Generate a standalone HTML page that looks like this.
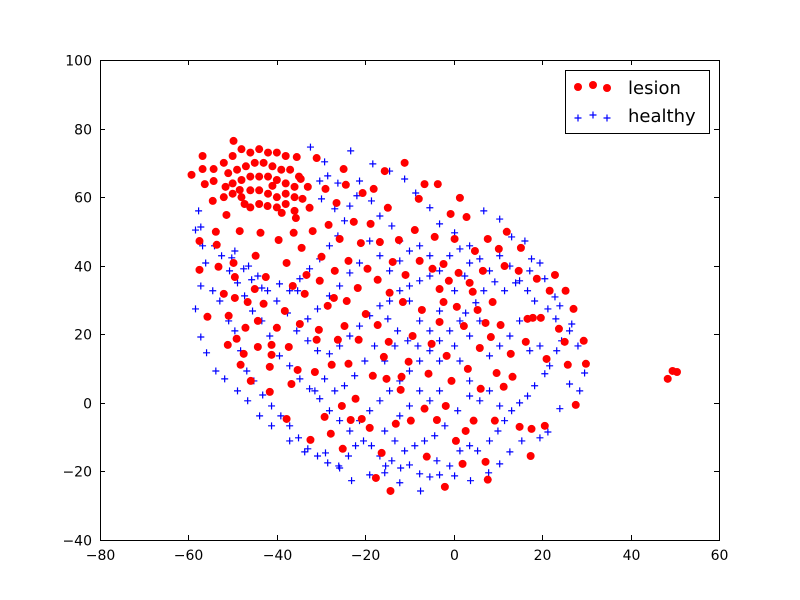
<!DOCTYPE html>
<html><head><meta charset="utf-8"><style>
body{margin:0;background:#fff;}
svg{display:block;font-family:"DejaVu Sans","Liberation Sans",sans-serif;}
</style></head><body>
<svg id="chart" width="800" height="600" viewBox="0 0 800 600" xmlns="http://www.w3.org/2000/svg">
<rect x="0" y="0" width="800" height="600" fill="#fff"/>
<g id="marks"></g>
<g id="axes"></g>
<g>
<rect x="565.5" y="70.5" width="144" height="63" fill="#fff" stroke="#000" stroke-width="1"/>
<g>
<circle cx="578" cy="87" r="4" fill="#f00"/><circle cx="593" cy="85" r="4" fill="#f00"/><circle cx="607" cy="88" r="4" fill="#f00"/>
<text x="628" y="94" font-size="18">lesion</text></g>
<g stroke="#00f" stroke-width="1.2">
<path d="M574.5 118h7M578 114.5v7M589.5 115h7M593 111.5v7M603.5 118h7M607 114.5v7"/>
<text x="628" y="122" font-size="18" stroke="none" fill="#000">healthy</text></g>
</g>
</svg>
<script>
const xTicks=[-80,-60,-40,-20,0,20,40,60];
const yTicks=[-40,-20,0,20,40,60,80,100];
const lesionX=[-59.3,-56.8,-56.8,-56.3,-57.5,-57.5,-55.7,-54.5,-54.3,-54.3,-53.8,-53.6,-53.2,-52.0,-51.6,-51.4,-51.1,-50.9,-49.8,-49.8,-49.5,-49.5,-49.1,-48.4,-48.4,-48.2,-47.5,-47.3,-47.1,-46.6,-45.9,-45.0,-44.8,-44.3,-44.3,-43.7,-43.0,-42.5,-42.1,-41.6,-41.6,-41.0,-41.2,-41.2,-40.0,-39.6,-38.9,-38.2,-37.8,-37.8,-37.3,-36.7,-36.4,-36.2,-35.7,-35.5,-35.3,-34.8,-34.6,-34.4,-34.2,-33.7,-33.3,-32.6,-32.4,-31.9,-31.4,-31.0,-31.0,-30.5,-30.3,-29.9,-29.2,-29.0,-28.5,-28.3,-27.8,-27.6,-27.1,-26.9,-26.5,-26.2,-25.8,-25.3,-25.1,-24.9,-24.7,-24.4,-24.2,-23.8,-23.8,-23.3,-22.6,-22.2,-21.7,-21.5,-21.0,-20.8,-20.6,-19.9,-19.5,-19.0,-18.8,-18.3,-18.1,-17.6,-17.2,-17.2,-16.7,-16.3,-15.8,-15.6,-15.2,-14.9,-14.7,-14.5,-14.3,-13.8,-13.1,-12.4,-12.0,-11.8,-11.5,-11.1,-10.9,-10.2,-9.7,-9.3,-8.8,-7.9,-7.7,-7.2,-6.6,-6.6,-6.1,-5.7,-5.0,-4.8,-4.3,-3.8,-3.6,-3.2,-3.2,-2.3,-2.3,-2.0,-1.8,-1.6,-1.1,-0.7,-0.5,0.2,0.5,0.7,1.1,1.4,2.0,2.3,2.7,2.9,3.2,3.6,4.3,4.5,4.8,5.4,5.9,6.1,6.6,7.2,7.2,7.7,7.7,8.4,8.8,9.3,9.7,10.2,10.6,11.3,11.5,12.0,12.9,13.3,14.7,14.9,15.2,16.3,16.7,17.4,17.6,17.9,18.8,19.7,20.6,21.0,21.7,22.9,23.8,25.1,25.3,25.8,27.1,27.6,29.4,29.9,48.4,49.5,50.5,-52,-50,-48,-46,-44,-42,-40,-38,-51,-49,-47,-45,-43,-41,-39,-37,-35,-50,-48,-46,-44,-42,-40,-38,-36,-52,-50,-48,-46,-44,-42,-40,-38,-36,-46,-44,-40,-38,-36,-33];
const lesionY=[66.5,72.0,68.2,63.8,47.2,38.8,25.1,58.9,68.2,64.7,49.9,46.1,39.7,31.8,63.0,54.8,16.9,25.4,76.4,40.8,30.6,36.7,18.7,50.1,62.1,11.1,14.3,58.0,21.9,29.4,6.4,33.2,42.9,16.3,23.9,49.6,28.9,36.7,57.4,3.2,10.5,63.3,14.0,16.9,21.9,47.5,55.4,26.8,40.8,-4.7,16.3,5.5,34.1,49.6,53.9,71.7,9.6,23.0,65.3,45.2,59.5,31.8,37.3,56.9,-10.8,50.1,9.0,71.4,18.4,21.3,35.6,42.6,-4.1,62.4,28.3,51.9,-9.0,11.1,30.6,38.5,58.3,18.4,47.8,-0.9,-13.4,68.2,22.4,63.6,29.7,11.4,41.4,-5.0,52.8,1.2,33.5,18.4,46.6,-4.7,61.2,25.9,39.1,-7.3,52.2,7.9,62.4,-21.9,22.7,35.9,46.9,-14.6,13.4,67.6,7.0,56.9,17.8,32.1,-25.7,41.1,-6.1,47.5,3.8,7.6,29.4,70.0,37.3,12.0,-5.2,19.5,50.4,59.5,41.4,27.1,63.8,-1.7,-15.7,8.5,17.2,39.1,48.4,-5.0,63.8,33.2,23.6,29.4,40.5,-24.5,-0.9,13.7,35.6,55.1,6.4,47.8,-11.1,28.0,37.9,59.8,-17.8,22.4,-8.2,54.2,9.9,35.0,32.4,-5.2,44.3,27.1,16.0,4.1,38.5,23.3,-17.2,-22.4,47.8,19.2,29.4,-5.2,8.7,44.9,22.7,4.7,39.9,49.9,14.3,7.6,38.5,-7.0,45.2,17.8,24.5,-15.5,-7.6,24.8,36.2,24.8,-6.7,12.8,32.7,37.3,21.6,17.8,32.7,11.1,27.4,-0.6,18.1,11.4,7.0,9.3,9.0,70,72,74,73,74,73,73,72,67,68,69,70,70,69,68,68,66,64,65,66,66,66,65,64,63,60,61,60,62,62,61,60,61,60,57,58,57,58,56,63];
const healthyX=[-32.4,-29.2,-26.2,-23.3,-18.3,-14.5,-11.1,-8.6,-5.4,-3.2,0.2,3.6,6.8,10.4,13.1,16.1,17.6,20.6,22.9,24.0,26.7,28.1,29.6,28.5,26.2,24.0,21.3,19.5,15.4,12.7,10.4,7.9,3.8,0.2,-3.8,-7.5,-12.2,-15.6,-19.0,-23.1,-25.8,-29.0,-33.7,-37.1,-41.2,-43.9,-46.6,-48.9,-51.8,-53.8,-55.9,-57.2,-58.4,-57.2,-56.8,-57.2,-57.7,-58.4,-56.1,-54.5,-52.9,-50.9,-49.5,-48.2,-46.8,-45.2,-43.2,-41.2,-39.1,-37.1,-35.1,-33.0,-30.8,-28.5,-26.0,-23.8,-22.2,-20.4,-18.6,-16.7,-15.4,-14.0,-12.0,-10.0,-7.7,-5.4,-3.2,-0.9,1.4,3.6,5.4,8.1,10.0,11.5,13.1,14.9,16.7,18.3,20.6,21.7,23.3,24.4,26.2,23.1,21.3,18.3,16.7,14.0,11.5,9.3,6.8,5.0,2.7,1.4,-0.9,-3.2,-5.4,-7.7,-10.0,-12.2,-14.5,-16.7,-19.0,-21.3,-23.5,-25.8,-28.1,-30.3,-32.6,-34.8,-37.1,-39.4,-41.6,-43.4,-45.5,-47.3,-48.9,-50.7,-52.5,-54.1,-49.5,-46.4,-44.3,-42.1,-40.0,-37.6,-35.5,-33.0,-30.8,-28.1,-25.8,-23.5,-21.3,-19.0,-16.7,-14.5,-12.2,-10.0,-7.7,-5.4,-3.2,-0.9,1.4,3.6,5.9,8.1,10.4,12.7,14.9,17.2,19.5,-23.5,-24.7,-26.2,-28.1,-30.3,-32.6,-34.8,-37.1,-39.4,-43.4,-45.7,-47.5,-50.2,-21.3,-18.6,-16.7,-14.0,-12.2,-10.0,-7.7,-5.4,-19.0,-21.3,-23.5,-25.8,-28.1,-30.8,-33.0,-35.3,-16.7,-14.5,-12.2,-10.0,-7.7,-5.4,-3.2,0.2,2.5,-14.9,-12.7,-10.4,-8.1,-13.3,-15.6,-17.9,-20.1,-22.4,-24.7,-26.9,-29.2,-31.4,3.6,5.9,8.1,10.4,12.7,14.9,17.2,19.5,1.4,3.6,5.9,8.1,10.4,3.6,0.9,-2.0,-4.3,-6.6,-8.8,-11.1,-13.3,-15.6,-7.7,-5.4,-3.2,-10.0,-12.2,-3.2,0.2,-26.9,-29.9,-30.3,-28.5,-21.9];
const healthyY=[74.6,70.3,64.1,73.5,69.7,67.6,65.3,61.2,56.9,52.2,49.6,45.8,56.0,53.6,48.4,47.2,42.0,36.2,30.9,28.3,23.0,16.6,8.7,3.5,5.5,-1.7,-8.5,-10.2,-11.1,-14.3,-17.8,-20.4,-22.7,-21.3,-16.9,-25.7,-23.3,-20.4,-21.0,-22.7,-19.0,-14.6,-14.3,-11.1,-6.7,-3.8,0.6,3.5,7.0,9.3,14.6,19.2,27.4,34.1,45.8,51.3,56.0,50.4,40.8,32.7,29.7,23.9,21.0,15.2,9.3,6.4,2.3,-0.9,-3.8,-6.7,-10.2,-13.4,-15.5,-17.5,-18.4,-15.5,-12.5,-11.1,-12.5,-15.5,-18.4,-16.9,-19.0,-18.1,-20.7,-21.6,-21.0,-18.4,-14.0,-12.5,-14.0,-11.1,-8.2,-5.2,-2.3,0.0,2.0,5.0,8.5,10.8,15.2,18.1,21.0,24.5,27.4,29.7,32.7,35.0,32.7,35.3,32.7,29.2,26.2,23.9,21.0,18.1,15.2,12.2,9.3,6.4,3.5,0.6,-2.3,-5.2,-8.2,-5.2,-2.3,1.2,4.1,7.0,10.8,13.7,19.5,23.9,26.8,31.2,35.0,38.5,42.9,45.8,44.3,39.9,37.0,32.7,29.7,26.2,21.0,18.1,15.2,14.3,16.6,19.5,22.4,25.4,28.3,29.7,32.7,34.1,35.6,37.0,38.5,42.9,44.9,40.8,42.0,38.5,42.9,39.9,35.6,38.5,40.8,57.4,53.1,48.7,45.8,42.0,39.1,36.2,32.7,34.7,33.5,35.9,39.1,42.3,64.7,58.9,54.5,51.6,47.2,44.3,45.8,42.9,47.2,40.8,37.9,34.1,31.2,27.4,24.5,32.7,42.9,38.5,41.4,29.7,23.9,21.0,26.8,32.7,37.0,24.5,21.0,18.1,16.6,16.6,12.2,16.6,12.2,7.9,5.0,3.5,7.0,3.5,19.5,23.9,13.7,16.6,19.5,23.9,15.2,16.6,12.2,6.4,0.6,3.5,-0.9,2.0,-2.3,-6.7,-9.6,-11.1,-12.5,-14.0,-11.1,-8.2,3.5,0.6,3.5,-0.9,-3.8,12.2,16.6,56.6,59.5,64.7,66.2,60.4];

const L=100,R=719,T=60,B=540;
const xMin=-80,xMax=60,yMin=-40,yMax=100;
function sx(v){return L+(v-xMin)/(xMax-xMin)*(R-L);}
function sy(v){return B-(v-yMin)/(yMax-yMin)*(B-T);}
const NS='http://www.w3.org/2000/svg';
const marks=document.getElementById('marks');
const axes=document.getElementById('axes');
for(let i=0;i<healthyX.length;i++){
  const p=document.createElementNS(NS,'path');
  const x=sx(healthyX[i]),y=sy(healthyY[i]);
  p.setAttribute('d','M'+(x-3.5)+' '+y+'h7M'+x+' '+(y-3.5)+'v7');
  p.setAttribute('stroke','#00f');p.setAttribute('stroke-width','1.2');
  
  
  marks.appendChild(p);
}
for(let i=0;i<lesionX.length;i++){
  const c=document.createElementNS(NS,'circle');
  c.setAttribute('cx',sx(lesionX[i]));c.setAttribute('cy',sy(lesionY[i]));
  c.setAttribute('r','4');c.setAttribute('fill','#f00');
  
  
  marks.appendChild(c);
}
const frame=document.createElementNS(NS,'rect');
frame.setAttribute('x',L+0.5);frame.setAttribute('y',T+0.5);
frame.setAttribute('width',R-L);frame.setAttribute('height',B-T);
frame.setAttribute('fill','none');frame.setAttribute('stroke','#000');


axes.appendChild(frame);
xTicks.forEach(v=>{
  const x=Math.round(sx(v))+0.5;
  const t=document.createElementNS(NS,'path');
  t.setAttribute('d','M'+x+' '+B+'v-5M'+x+' '+T+'v5');
  t.setAttribute('stroke','#000');
  
  
  axes.appendChild(t);
  const tx=document.createElementNS(NS,'text');
  tx.setAttribute('x',x);tx.setAttribute('y',B+20);
  tx.setAttribute('text-anchor','middle');tx.setAttribute('font-size','14');
  tx.textContent=(v<0?'\u2212':'')+Math.abs(v);
  
  
  axes.appendChild(tx);
});
yTicks.forEach(v=>{
  const y=Math.round(sy(v))+0.5;
  const t=document.createElementNS(NS,'path');
  t.setAttribute('d','M'+L+' '+y+'h5M'+R+' '+y+'h-5');
  t.setAttribute('stroke','#000');
  
  
  axes.appendChild(t);
  const tx=document.createElementNS(NS,'text');
  tx.setAttribute('x',L-8);tx.setAttribute('y',y+5);
  tx.setAttribute('text-anchor','end');tx.setAttribute('font-size','14');
  tx.textContent=(v<0?'\u2212':'')+Math.abs(v);
  
  
  axes.appendChild(tx);
});
</script>
</body></html>
